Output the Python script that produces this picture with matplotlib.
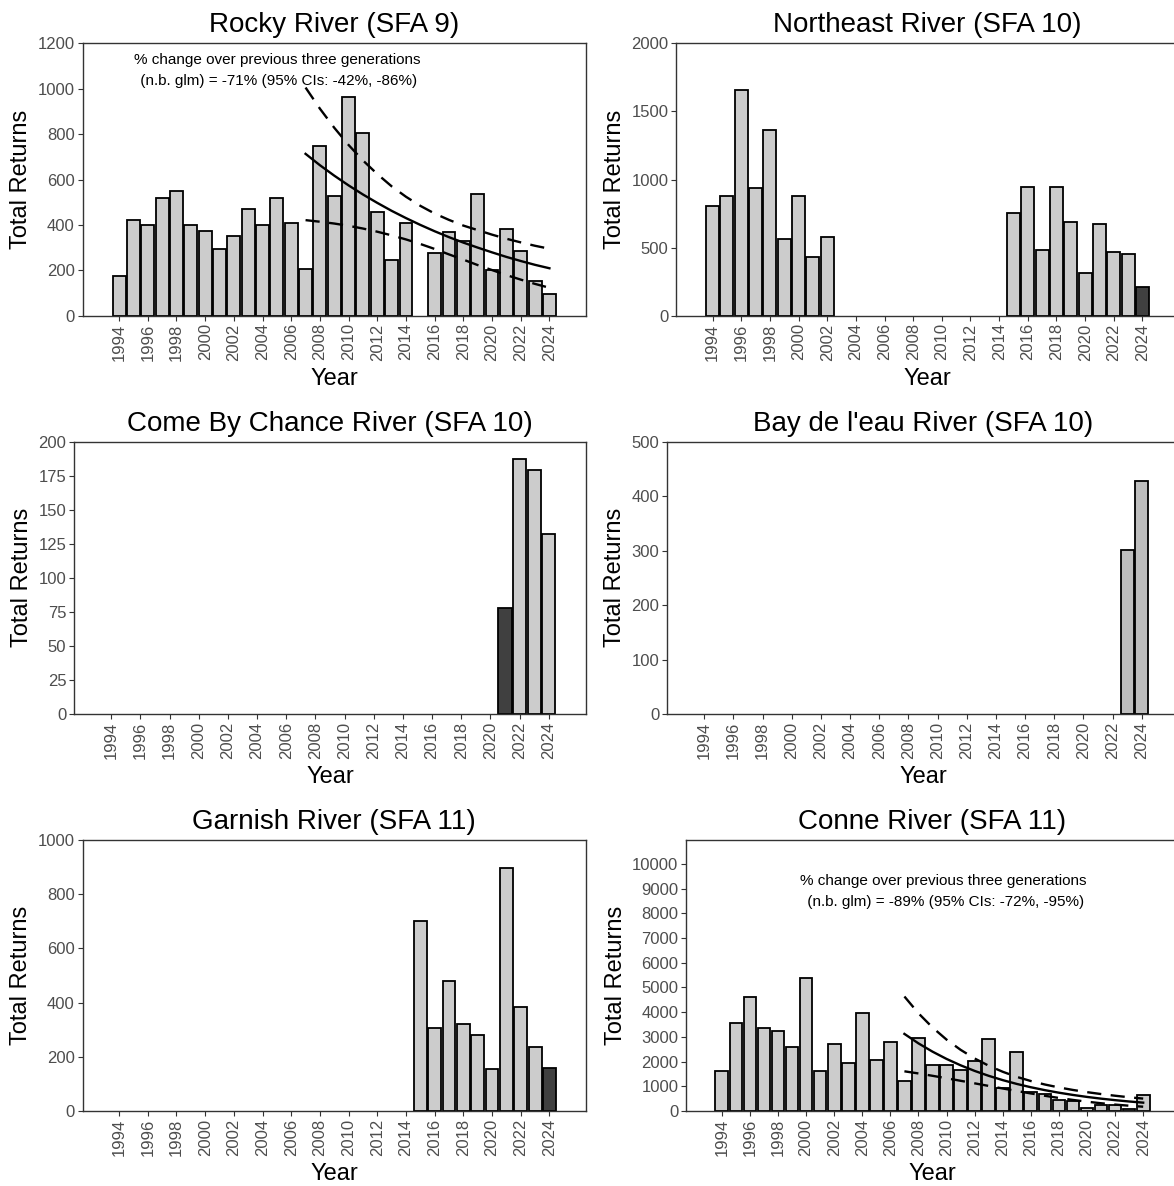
import numpy as np
import matplotlib
matplotlib.use("Agg")
import matplotlib.pyplot as plt

plt.rcParams['font.family'] = ['Liberation Sans', 'DejaVu Sans']

# total returns (missing years left out)
rocky_years = list(range(1994, 2015)) + list(range(2016, 2025))
rocky_vals = [176, 420, 401, 520, 551, 401, 375, 294, 350, 469, 401, 520, 407, 207,
              746, 527, 964, 807, 457, 245, 410,
              278, 370, 329, 535, 201, 382, 284, 151, 94]

northeast_years = list(range(1994, 2003)) + list(range(2015, 2025))
northeast_vals = [809, 880, 1659, 934, 1365, 566, 882, 429, 576,
                  755, 946, 480, 946, 691, 314, 672, 471, 451, 208]

cbc_years = [2021, 2022, 2023, 2024]
cbc_vals = [78, 187, 179, 132]

bay_years = [2023, 2024]
bay_vals = [301, 427]

garnish_years = list(range(2015, 2025))
garnish_vals = [702, 305, 480, 322, 279, 154, 895, 385, 237, 159]

conne_years = list(range(1994, 2025))
conne_vals = [1621, 3580, 4634, 3350, 3229, 2607, 5390, 1621, 2729, 1959,
              3985, 2081, 2790, 1225, 2950, 1845, 1845, 1640, 2035, 2900,
              940, 2380, 760, 700, 440, 400, 110, 240, 240, 80, 660]

# n.b. glm fit over the last three generations, with 95% CI band
trend_years = list(range(2007, 2025))
rocky_fit = [713, 663, 617, 574, 534, 497, 462, 430, 400, 372, 346, 322, 300, 279, 259, 241, 224, 209]
rocky_lo = [421, 414, 406, 396, 384, 370, 354, 336, 316, 294, 270, 247, 223, 201, 179, 159, 140, 123]
rocky_hi = [1005, 912, 828, 752, 684, 624, 570, 524, 484, 450, 422, 397, 377, 357, 339, 323, 308, 295]
conne_fit = [3121, 2738, 2403, 2108, 1850, 1623, 1424, 1250, 1096, 962, 844, 741, 650, 570, 500, 439, 385, 338]
conne_lo = [1607, 1520, 1425, 1326, 1223, 1120, 1015, 912, 810, 711, 616, 528, 448, 377, 314, 260, 214, 174]
conne_hi = [4635, 3956, 3381, 2890, 2477, 2126, 1833, 1588, 1382, 1213, 1072, 954, 852, 763, 686, 618, 556, 502]

rocky_note = "% change over previous three generations\n (n.b. glm) = -71% (95% CIs: -42%, -86%)"
conne_note = "% change over previous three generations\n (n.b. glm) = -89% (95% CIs: -72%, -95%)"

W, H = 1174, 1186
fig = plt.figure(figsize=(W / 100, H / 100), dpi=100)


def box(left, top, right, bottom):
    # pixel box -> figure fraction
    return [left / W, 1 - bottom / H, (right - left) / W, (bottom - top) / H]


def panel(rect, title, yrs, vals, ymax, ystep, dark=(), fill='#CCCCCC'):
    ax = fig.add_axes(rect)
    cols = ['#404040' if y in dark else fill for y in yrs]
    ax.bar(yrs, vals, width=0.9, color=cols, edgecolor='black', linewidth=1.3, zorder=2)
    ax.set_xlim(1991.45, 2026.55)
    ax.set_ylim(0, ymax)
    ax.set_yticks(np.arange(0, ymax + 1, ystep))
    ax.set_xticks(range(1994, 2025, 2))
    ax.tick_params(axis='x', rotation=90)
    ax.tick_params(labelsize=12, labelcolor='#4D4D4D', color='#333333', length=3.5, width=0.8, pad=2)
    for s in ax.spines.values():
        s.set_color('#333333')
        s.set_linewidth(1.0)
    ax.set_title(title, fontsize=20, pad=8)
    ax.set_xlabel('Year', fontsize=17, labelpad=5)
    ax.set_ylabel('Total Returns', fontsize=17, labelpad=4)
    return ax


def trend(ax, fit, lo, hi):
    ax.plot(trend_years, fit, color='black', lw=1.7, zorder=3)
    ax.plot(trend_years, lo, color='black', lw=1.7, ls=(0, (6, 4)), zorder=3)
    ax.plot(trend_years, hi, color='black', lw=1.7, ls=(0, (6, 4)), zorder=3)


ax1 = panel(box(82.5, 43.3, 586, 315.7), 'Rocky River (SFA 9)', rocky_years, rocky_vals, 1200, 200)
trend(ax1, rocky_fit, rocky_lo, rocky_hi)
ax1.text(2005, 1080, rocky_note, ha='center', va='center', fontsize=11, linespacing=1.7)

panel(box(676, 43.3, 1179, 315.7), 'Northeast River (SFA 10)', northeast_years, northeast_vals,
      2000, 500, dark=(2024,))

panel(box(74, 441.7, 586, 714), 'Come By Chance River (SFA 10)', cbc_years, cbc_vals,
      200, 25, dark=(2021,))

panel(box(667, 441.7, 1179, 714), "Bay de l'eau River (SFA 10)", bay_years, bay_vals,
      500, 100, fill='#BEBEBE')

panel(box(82.5, 840, 586, 1111), 'Garnish River (SFA 11)', garnish_years, garnish_vals,
      1000, 200, dark=(2024,))

ax6 = panel(box(686, 840, 1179, 1111), 'Conne River (SFA 11)', conne_years, conne_vals,
            10970, 1000)
trend(ax6, conne_fit, conne_lo, conne_hi)
ax6.text(2009.8, 8880, conne_note, ha='center', va='center', fontsize=11, linespacing=1.7)

fig.savefig('out.png', dpi=100)
